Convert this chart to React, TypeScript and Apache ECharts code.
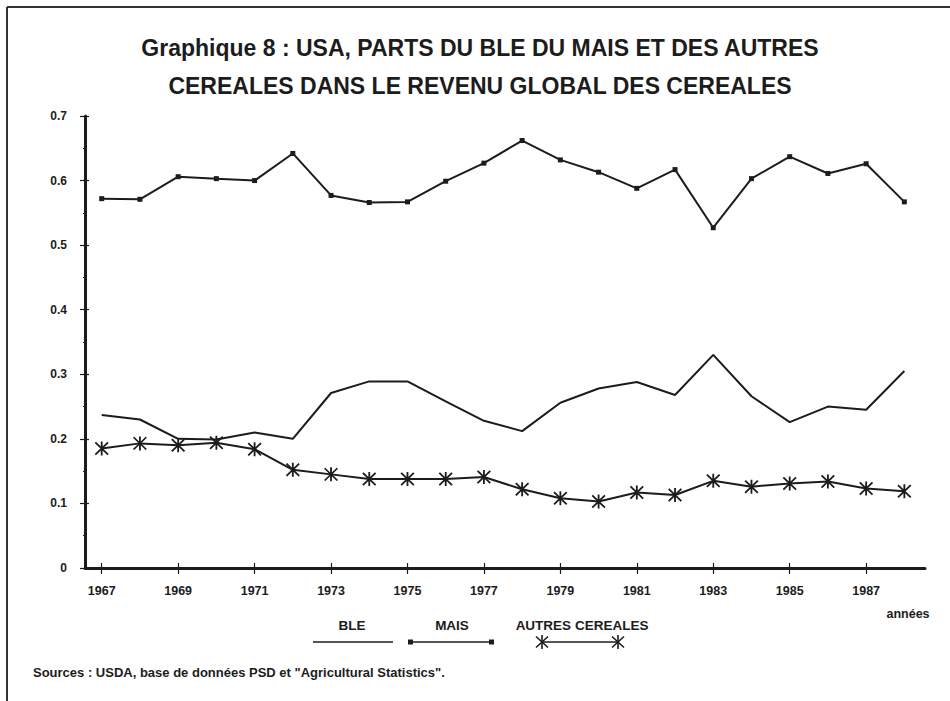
import React, { useEffect, useRef } from "react";
import * as echarts from "echarts";

const YEARS = [1967, 1968, 1969, 1970, 1971, 1972, 1973, 1974, 1975, 1976, 1977, 1978, 1979, 1980, 1981, 1982, 1983, 1984, 1985, 1986, 1987, 1988];
const BLE = [0.237, 0.230, 0.200, 0.199, 0.210, 0.200, 0.271, 0.289, 0.289, 0.258, 0.228, 0.212, 0.256, 0.278, 0.288, 0.268, 0.330, 0.266, 0.226, 0.250, 0.245, 0.305];
const MAIS = [0.572, 0.571, 0.606, 0.603, 0.600, 0.642, 0.577, 0.566, 0.567, 0.599, 0.627, 0.662, 0.632, 0.613, 0.588, 0.617, 0.527, 0.603, 0.637, 0.611, 0.626, 0.567];
const AUTRES = [0.185, 0.193, 0.190, 0.194, 0.184, 0.152, 0.145, 0.138, 0.138, 0.138, 0.141, 0.122, 0.108, 0.103, 0.117, 0.113, 0.135, 0.126, 0.131, 0.134, 0.123, 0.119];
const X_TICKS = [1967, 1969, 1971, 1973, 1975, 1977, 1979, 1981, 1983, 1985, 1987];

const TITLE_1 = "Graphique 8 : USA, PARTS DU BLE DU MAIS ET DES AUTRES";
const TITLE_2 = "CEREALES DANS LE REVENU GLOBAL DES CEREALES";
const SOURCE = 'Sources : USDA, base de données PSD et "Agricultural Statistics".';
const SERIES_NAMES = ["BLE", "MAIS", "AUTRES CEREALES"];

const FONT = '"Liberation Sans", Arial, sans-serif';
const INK = "#1c1c1c";

const ASTERISK =
  "path://M-1,-8L1,-8L1,8L-1,8Z M-6.3,-7.7L7.7,6.3L6.3,7.7L-7.7,-6.3Z M6.3,-7.7L7.7,-6.3L-6.3,7.7L-7.7,6.3Z";

function pairs(vals: number[]) {
  return YEARS.map((y, i) => [y, vals[i]]);
}

function asteriskGroup(cx: number, cy: number) {
  const s = { stroke: INK, lineWidth: 1.6 };
  return {
    type: "group",
    children: [
      { type: "line", shape: { x1: cx, y1: cy - 7, x2: cx, y2: cy + 7 }, style: s },
      { type: "line", shape: { x1: cx - 6, y1: cy - 5.5, x2: cx + 6, y2: cy + 5.5 }, style: s },
      { type: "line", shape: { x1: cx - 6, y1: cy + 5.5, x2: cx + 6, y2: cy - 5.5 }, style: s },
    ],
  };
}

export default function App() {
  const ref = useRef<HTMLDivElement>(null);
  useEffect(() => {
    if (!ref.current) return;
    const chart = echarts.init(ref.current, undefined, { renderer: "svg" });
    const xMin = 1966.563;
    const xMax = 1988.54;
    const labelStyle = { color: INK, fontFamily: FONT, fontWeight: "bold" as const };
    const option: any = {
      animation: false,
      backgroundColor: "#ffffff",
      grid: { left: 85, right: 25, top: 116, bottom: 133, containLabel: false },
      xAxis: [
        {
          type: "value",
          min: xMin,
          max: xMax,
          position: "bottom",
          axisLine: { show: true, onZero: false, lineStyle: { color: INK, width: 3 } },
          axisTick: { show: true, length: 6, customValues: X_TICKS, lineStyle: { color: INK, width: 1.2 } },
          axisLabel: {
            show: true,
            margin: 16,
            customValues: X_TICKS,
            formatter: (v: number) => String(Math.round(v)),
            fontSize: 12.5,
            ...labelStyle,
          },
          splitLine: { show: false },
        },
        {
          type: "value",
          min: xMin,
          max: xMax,
          position: "bottom",
          axisLine: { show: false },
          axisTick: { show: true, inside: true, length: 5, customValues: X_TICKS, lineStyle: { color: INK, width: 1.2 } },
          axisLabel: { show: false },
          splitLine: { show: false },
        },
      ],
      yAxis: [
        {
          type: "value",
          min: 0,
          max: 0.7,
          interval: 0.1,
          position: "left",
          axisLine: { show: true, onZero: false, lineStyle: { color: INK, width: 3 } },
          axisTick: { show: true, length: 5, lineStyle: { color: INK, width: 1.2 } },
          minorTick: { show: true, splitNumber: 2, length: 2, lineStyle: { color: INK, width: 1 } },
          axisLabel: {
            margin: 18,
            formatter: (v: number) => (v === 0 ? "0" : v.toFixed(1)),
            fontSize: 12,
            ...labelStyle,
          },
          splitLine: { show: false },
          minorSplitLine: { show: false },
        },
        {
          type: "value",
          min: 0,
          max: 0.7,
          interval: 0.1,
          position: "left",
          axisLine: { show: false },
          axisTick: { show: true, inside: true, length: 4, lineStyle: { color: INK, width: 1.2 } },
          minorTick: { show: true, splitNumber: 2, length: 2, lineStyle: { color: INK, width: 1 } },
          axisLabel: { show: false },
          splitLine: { show: false },
        },
      ],
      series: [
        {
          name: SERIES_NAMES[0],
          type: "line",
          data: pairs(BLE),
          symbol: "none",
          lineStyle: { color: INK, width: 2 },
        },
        {
          name: SERIES_NAMES[1],
          type: "line",
          data: pairs(MAIS),
          symbol: "rect",
          symbolSize: 5,
          itemStyle: { color: INK },
          lineStyle: { color: INK, width: 2 },
        },
        {
          name: SERIES_NAMES[2],
          type: "line",
          data: pairs(AUTRES),
          symbol: ASTERISK,
          symbolSize: 14,
          itemStyle: { color: INK },
          lineStyle: { color: INK, width: 2 },
        },
      ],
      graphic: [
        { type: "line", shape: { x1: 7, y1: 7, x2: 950, y2: 7 }, style: { stroke: "#333", lineWidth: 2 } },
        { type: "line", shape: { x1: 7, y1: 7, x2: 7, y2: 701 }, style: { stroke: "#333", lineWidth: 2 } },
        {
          type: "text",
          x: 480,
          y: 48,
          style: { text: TITLE_1, fill: INK, font: `bold 23px ${FONT}`, textAlign: "center", textVerticalAlign: "middle" },
        },
        {
          type: "text",
          x: 480,
          y: 86,
          style: { text: TITLE_2, fill: INK, font: `bold 23px ${FONT}`, textAlign: "center", textVerticalAlign: "middle" },
        },
        {
          type: "text",
          x: 352,
          y: 625,
          style: { text: SERIES_NAMES[0], fill: INK, font: `bold 13.5px ${FONT}`, textAlign: "center", textVerticalAlign: "middle" },
        },
        { type: "line", shape: { x1: 313, y1: 642, x2: 393, y2: 642 }, style: { stroke: INK, lineWidth: 1.6 } },
        {
          type: "text",
          x: 452,
          y: 625,
          style: { text: SERIES_NAMES[1], fill: INK, font: `bold 13.5px ${FONT}`, textAlign: "center", textVerticalAlign: "middle" },
        },
        { type: "line", shape: { x1: 410, y1: 642, x2: 492, y2: 642 }, style: { stroke: INK, lineWidth: 1.6 } },
        { type: "rect", shape: { x: 408, y: 639.5, width: 5, height: 5 }, style: { fill: INK } },
        { type: "rect", shape: { x: 489, y: 639.5, width: 5, height: 5 }, style: { fill: INK } },
        {
          type: "text",
          x: 582,
          y: 625,
          style: { text: SERIES_NAMES[2], fill: INK, font: `bold 13.5px ${FONT}`, textAlign: "center", textVerticalAlign: "middle" },
        },
        { type: "line", shape: { x1: 542, y1: 642, x2: 618, y2: 642 }, style: { stroke: INK, lineWidth: 1.6 } },
        asteriskGroup(542, 642),
        asteriskGroup(618, 642),
        {
          type: "text",
          x: 908,
          y: 614,
          style: { text: "années", fill: INK, font: `bold 12.5px ${FONT}`, textAlign: "center", textVerticalAlign: "middle" },
        },
        {
          type: "text",
          x: 33,
          y: 672,
          style: { text: SOURCE, fill: INK, font: `bold 13px ${FONT}`, textAlign: "left", textVerticalAlign: "middle" },
        },
      ],
    };
    chart.setOption(option);
    return () => chart.dispose();
  }, []);
  return (
    <div
      ref={ref}
      style={{ position: "absolute", left: 0, top: 0, width: 950, height: 701, background: "#fff" }}
    />
  );
}
